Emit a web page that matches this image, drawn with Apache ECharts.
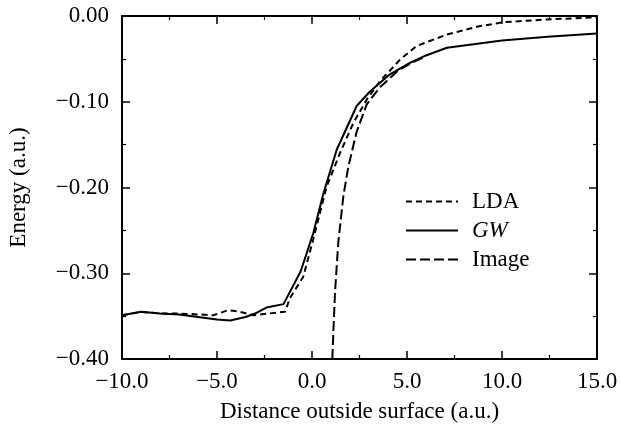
<!DOCTYPE html>
<html>
<head>
<meta charset="utf-8">
<script src="https://cdn.jsdelivr.net/npm/echarts@6/dist/echarts.min.js"></script>
<style>html,body{margin:0;padding:0;background:#fff}#c{width:621px;height:424px}</style>
</head>
<body>
<div id="c"></div>
<script>
// Data
const gwX  = [-10, -9.0, -8.0, -7.0, -6.0, -5.0, -4.3, -3.5, -3.0, -2.4, -1.5, -0.6, 0.07, 0.6, 1.3, 2.35, 3.05, 4.1, 5.2, 6.0, 7.1, 8.5, 10.0, 12.4, 15.0];
const gwY  = [-0.349, -0.345, -0.347, -0.348, -0.351, -0.354, -0.355, -0.351, -0.347, -0.340, -0.336, -0.298, -0.253, -0.207, -0.156, -0.105, -0.088, -0.068, -0.054, -0.046, -0.037, -0.033, -0.0285, -0.0243, -0.0205];
const ldaX = [-10, -9.0, -8.0, -7.0, -6.0, -5.2, -4.4, -3.8, -3.1, -2.3, -1.42, -1.16, -0.46, 0.07, 0.77, 1.47, 2.17, 2.88, 3.58, 4.63, 5.5, 7.1, 8.8, 10.1, 12.4, 15.0];
const ldaY = [-0.349, -0.345, -0.347, -0.347, -0.348, -0.349, -0.343, -0.345, -0.349, -0.347, -0.345, -0.329, -0.304, -0.260, -0.199, -0.160, -0.125, -0.0975, -0.076, -0.051, -0.035, -0.0216, -0.012, -0.0072, -0.004, -0.0015];
const imgX = [1.07, 1.13, 1.21, 1.38, 1.65, 1.91, 2.35, 2.88, 3.58, 4.46, 5.2, 6.0];
const imgY = [-0.400, -0.365, -0.323, -0.265, -0.210, -0.176, -0.135, -0.103, -0.083, -0.065, -0.055, -0.047];
const seriesNames = ['LDA', 'GW', 'Image'];
const xTitle = 'Distance outside surface (a.u.)';
const yTitle = 'Energy (a.u.)';

const zip = (xs, ys) => xs.map((x, i) => [x, ys[i]]);
const FONT = 'Liberation Serif, Times New Roman, serif';
const minus = s => s.replace('-', '\u2212');

const baseAxisLine = {show: true, onZero: false, lineStyle: {color: '#000', width: 2}};
const tick = {show: true, inside: true, length: 8, lineStyle: {color: '#000', width: 1.5}};
const minorTick = {show: true, splitNumber: 2, length: 4, lineStyle: {color: '#000', width: 1.2}};

const chart = echarts.init(document.getElementById('c'), null, {renderer: 'canvas'});
chart.setOption({
  animation: false,
  backgroundColor: '#fff',
  grid: {left: 122, right: 24, top: 16, bottom: 65, containLabel: false, outerBoundsMode: 'none'},
  legend: {
    orient: 'vertical', left: 405, top: 190, padding: 0,
    itemWidth: 52, itemHeight: 14, itemGap: 6,
    data: seriesNames,
    itemStyle: {color: 'transparent', borderWidth: 0, opacity: 0},
    textStyle: {fontFamily: FONT, fontSize: 23, color: '#000', padding: [0, 0, 0, 9],
      rich: {i: {fontStyle: 'italic', fontFamily: FONT, fontSize: 23, color: '#000'}}},
    formatter: n => n === 'GW' ? '{i|GW}' : n
  },
  xAxis: [{
    type: 'value', min: -10, max: 15, interval: 5, position: 'bottom',
    axisLine: baseAxisLine, axisTick: tick, minorTick: minorTick, splitLine: {show: false},
    axisLabel: {fontFamily: FONT, fontSize: 23, color: '#000', margin: 11, formatter: v => minus(v.toFixed(1))},
    name: xTitle, nameLocation: 'middle', nameGap: 41,
    nameTextStyle: {fontFamily: FONT, fontSize: 23, color: '#000'}
  }, {
    type: 'value', min: -10, max: 15, interval: 5, position: 'top',
    axisLine: baseAxisLine, axisTick: tick, minorTick: minorTick, splitLine: {show: false},
    axisLabel: {show: false}
  }],
  yAxis: [{
    type: 'value', min: -0.40, max: 0, interval: 0.1, position: 'left',
    axisLine: baseAxisLine, axisTick: tick, minorTick: minorTick, splitLine: {show: false},
    axisLabel: {fontFamily: FONT, fontSize: 23, color: '#000', margin: 13, formatter: v => minus(v.toFixed(2))},
    name: yTitle, nameLocation: 'middle', nameGap: 92, nameRotate: 90,
    nameTextStyle: {fontFamily: FONT, fontSize: 23, color: '#000'}
  }, {
    type: 'value', min: -0.40, max: 0, interval: 0.1, position: 'right',
    axisLine: baseAxisLine, axisTick: tick, minorTick: minorTick, splitLine: {show: false},
    axisLabel: {show: false}
  }],
  series: [
    {name: 'LDA', type: 'line', data: zip(ldaX, ldaY), symbol: 'none',
     itemStyle: {color: '#000'},
     lineStyle: {color: '#000', width: 2, type: [6, 4]}, clip: true},
    {name: 'GW', type: 'line', data: zip(gwX, gwY), symbol: 'none',
     itemStyle: {color: '#000'},
     lineStyle: {color: '#000', width: 2, type: 'solid'}, clip: true},
    {name: 'Image', type: 'line', data: zip(imgX, imgY), symbol: 'none',
     itemStyle: {color: '#000'},
     lineStyle: {color: '#000', width: 2, type: [10, 4]}, clip: true}
  ]
});
</script>
</body>
</html>
